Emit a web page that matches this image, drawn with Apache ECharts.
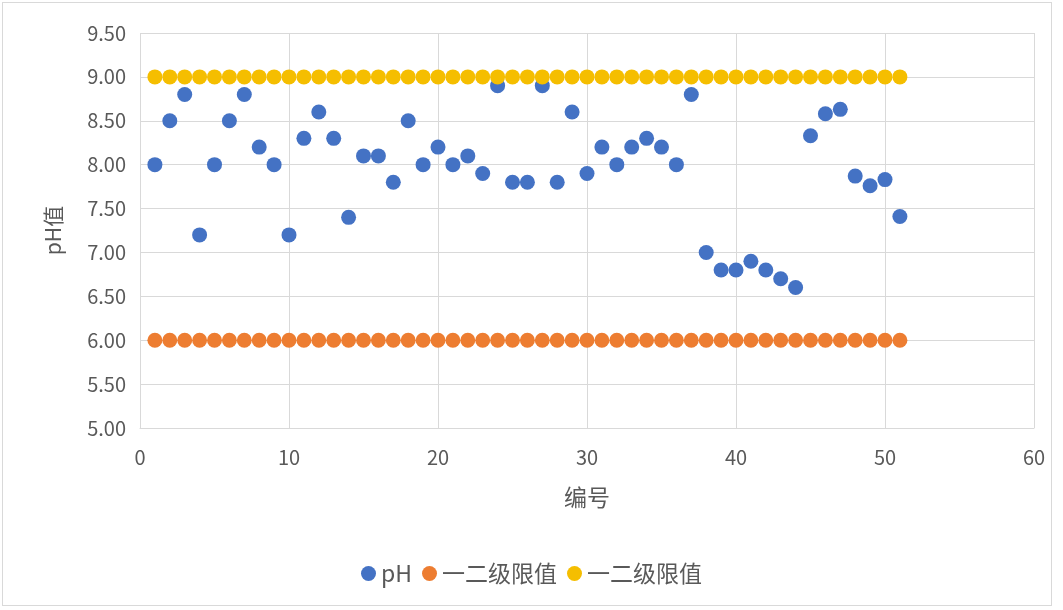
<!DOCTYPE html>
<html>
<head>
<meta charset="utf-8">
<script src="https://cdn.jsdelivr.net/npm/echarts@6/dist/echarts.min.js"></script>
<style>
html,body{margin:0;padding:0;background:#fff;}
#frame{position:absolute;left:2px;top:2px;width:1050px;height:604px;border:1px solid #d9d9d9;box-sizing:border-box;}
#c{position:absolute;left:0;top:0;width:1063px;height:610px;}
</style>
</head>
<body>
<div id="frame"></div>
<div id="c"></div>
<script>
const ids = [1,2,3,4,5,6,7,8,9,10,11,12,13,14,15,16,17,18,19,20,21,22,23,24,25,26,27,28,29,30,31,32,33,34,35,36,37,38,39,40,41,42,43,44,45,46,47,48,49,50,51];
const phValues = [8.0,8.5,8.8,7.2,8.0,8.5,8.8,8.2,8.0,7.2,8.3,8.6,8.3,7.4,8.1,8.1,7.8,8.5,8.0,8.2,8.0,8.1,7.9,8.9,7.8,7.8,8.9,7.8,8.6,7.9,8.2,8.0,8.2,8.3,8.2,8.0,8.8,7.0,6.8,6.8,6.9,6.8,6.7,6.6,8.33,8.58,8.63,7.87,7.76,7.83,7.41];
const lowerLimit = [6,6,6,6,6,6,6,6,6,6,6,6,6,6,6,6,6,6,6,6,6,6,6,6,6,6,6,6,6,6,6,6,6,6,6,6,6,6,6,6,6,6,6,6,6,6,6,6,6,6,6];
const upperLimit = [9,9,9,9,9,9,9,9,9,9,9,9,9,9,9,9,9,9,9,9,9,9,9,9,9,9,9,9,9,9,9,9,9,9,9,9,9,9,9,9,9,9,9,9,9,9,9,9,9,9,9];
const seriesKeys = ['s0','s1','s2'];
const seriesLabels = ['pH','一二级限值','一二级限值'];
const xTitle = '编号';
const yTitle = 'pH值';

const pair = (xs, ys) => xs.map((x, i) => [x, ys[i]]);
const font = '"Noto Sans CJK SC", "Noto Sans", sans-serif';
const chart = echarts.init(document.getElementById('c'), null, {renderer: 'canvas'});
const mk = (name, data, color) => ({
  name, type: 'scatter', data, symbol: 'circle', symbolSize: 15,
  itemStyle: {color, opacity: 1}, emphasis: {disabled: true}, animation: false
});
chart.setOption({
  animation: false,
  grid: {left: 140, right: 29, top: 33, bottom: 182, containLabel: false},
  xAxis: {
    type: 'value', min: 0, max: 60, interval: 10,
    name: xTitle, nameLocation: 'middle', nameGap: 58,
    nameTextStyle: {color: '#595959', fontSize: 23, fontFamily: font},
    axisLine: {show: true, lineStyle: {color: '#d9d9d9', width: 1}},
    axisTick: {show: false},
    axisLabel: {color: '#595959', fontSize: 20, margin: 19, fontFamily: font},
    splitLine: {show: true, lineStyle: {color: '#d9d9d9', width: 1}}
  },
  yAxis: {
    type: 'value', min: 5, max: 9.5, interval: 0.5,
    name: yTitle, nameLocation: 'middle', nameGap: 76, nameRotate: 90,
    nameTextStyle: {color: '#595959', fontSize: 21, fontFamily: font},
    axisLine: {show: false},
    axisTick: {show: false},
    axisLabel: {color: '#595959', fontSize: 20, margin: 14, fontFamily: font,
      formatter: v => v.toFixed(2)},
    splitLine: {show: true, lineStyle: {color: '#d9d9d9', width: 1}}
  },
  legend: {
    bottom: 20, left: 'center', itemGap: 10, itemWidth: 15, itemHeight: 15,
    icon: 'circle',
    textStyle: {color: '#595959', fontSize: 23, fontFamily: font},
    formatter: name => seriesLabels[seriesKeys.indexOf(name)],
    data: seriesKeys
  },
  series: [
    mk(seriesKeys[0], pair(ids, phValues), '#4472C4'),
    mk(seriesKeys[1], pair(ids, lowerLimit), '#ED7D31'),
    mk(seriesKeys[2], pair(ids, upperLimit), '#F5BE00')
  ]
});
</script>
</body>
</html>
